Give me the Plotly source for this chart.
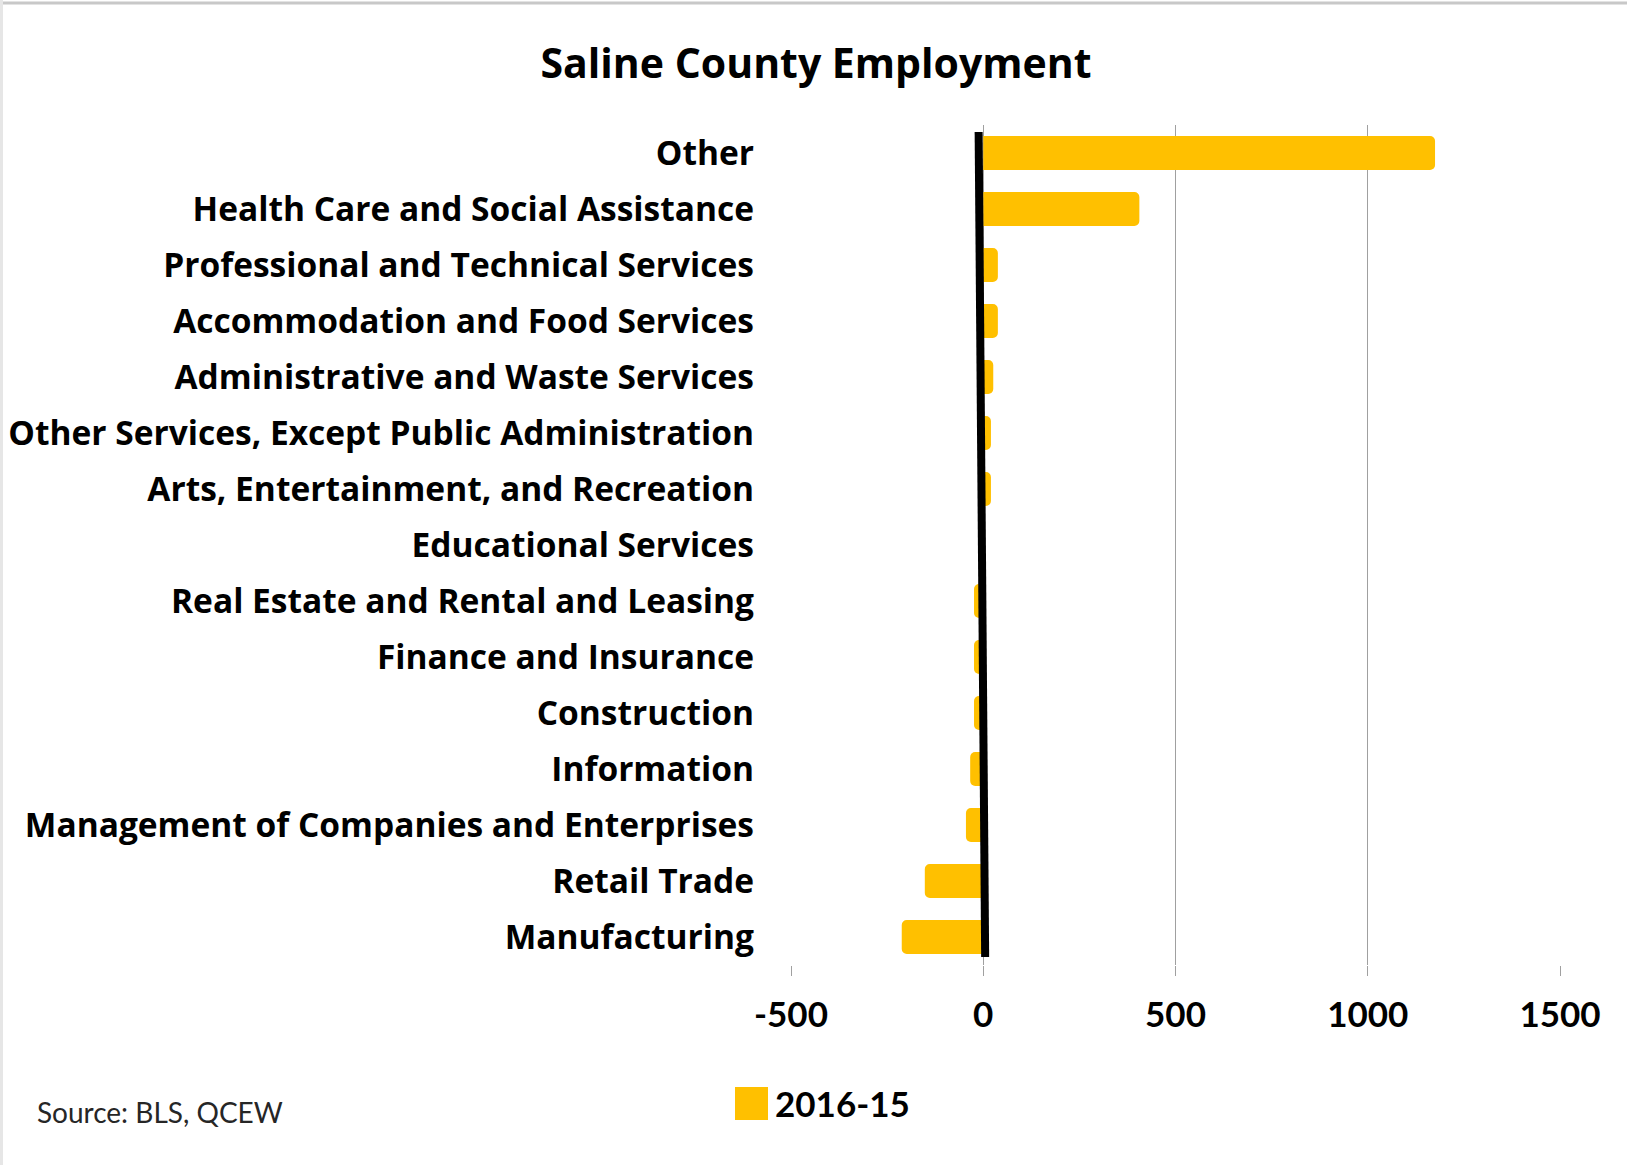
import plotly.graph_objects as go

categories = [
    "Other",
    "Health Care and Social Assistance",
    "Professional and Technical Services",
    "Accommodation and Food Services",
    "Administrative and Waste Services",
    "Other Services, Except Public Administration",
    "Arts, Entertainment, and Recreation",
    "Educational Services",
    "Real Estate and Rental and Leasing",
    "Finance and Insurance",
    "Construction",
    "Information",
    "Management of Companies and Enterprises",
    "Retail Trade",
    "Manufacturing",
]
change_2016_15 = [1175, 406, 38, 38, 26, 20, 20, 0, -24, -24, -24, -34, -45, -152, -212]
x_ticks = [-500, 0, 500, 1000, 1500]
series_name = "2016-15"
title_text = "Saline County Employment"
source_text = "Source: BLS, QCEW"

W, H = 1627, 1165
L, R, T, B = 791, 67, 125, 200
PW, PH = W - L - R, H - T - B
FONT = "Open Sans"
BAR = "#FFC000"


def px(xpix):
    return (xpix - L) / PW


def py(ypix):
    return (H - B - ypix) / PH


fig = go.Figure()
fig.add_trace(go.Bar(
    x=change_2016_15,
    y=categories,
    orientation="h",
    name=series_name,
    marker=dict(color=BAR, line=dict(width=0), cornerradius=5),
    showlegend=False,
))

fig.update_layout(
    width=W, height=H,
    margin=dict(l=L, r=R, t=T, b=B, autoexpand=False),
    paper_bgcolor="white",
    plot_bgcolor="white",
    bargap=0.39,
    font=dict(family=FONT, color="black"),
    title=dict(
        text=title_text,
        x=816 / W, xref="container", xanchor="center",
        y=1 - 64 / H, yref="container", yanchor="middle",
        font=dict(family=FONT, size=41, weight="bold", color="black"),
    ),
    xaxis=dict(
        range=[-500, 1500],
        tickvals=x_ticks,
        ticktext=[str(v) for v in x_ticks],
        showgrid=True, gridcolor="#a0a0a0", gridwidth=1,
        zeroline=False,
        showline=False,
        ticks="outside", ticklen=10, tickcolor="#a0a0a0", tickwidth=1,
        ticklabelstandoff=9,
        tickfont=dict(family="Lato", size=35, weight="bold", color="black"),
        fixedrange=True,
    ),
    yaxis=dict(
        categoryorder="array",
        categoryarray=categories[::-1],
        autorange=True,
        showgrid=False, zeroline=False, showline=False,
        ticks="",
        ticklabelstandoff=36,
        tickfont=dict(family=FONT, size=33.5, weight="bold", color="black"),
        fixedrange=True,
    ),
)

# thick hand-drawn-like zero line
fig.add_shape(type="line", xref="x", yref="paper",
              x0=-12, x1=5, y0=py(132), y1=py(957),
              line=dict(color="black", width=8), layer="above")

# legend (manual)
fig.add_shape(type="rect", xref="paper", yref="paper",
              x0=px(735), x1=px(768), y0=py(1120), y1=py(1087),
              fillcolor=BAR, line=dict(width=0), layer="above")
fig.add_annotation(text=series_name, xref="paper", yref="paper",
                   x=px(773), y=py(1103),
                   xanchor="left", yanchor="middle", showarrow=False,
                   font=dict(family="Lato", size=35, weight="bold", color="black"))

# source
fig.add_annotation(text=source_text, xref="paper", yref="paper",
                   x=px(35), y=py(1112),
                   xanchor="left", yanchor="middle", showarrow=False,
                   font=dict(family="Lato", size=28, color="#262626"))

# frame edges (top and left)
fig.add_shape(type="line", xref="paper", yref="paper",
              x0=px(0), x1=px(W), y0=py(3), y1=py(3),
              line=dict(color="#c8c8c8", width=3))
fig.add_shape(type="line", xref="paper", yref="paper",
              x0=px(1.5), x1=px(1.5), y0=py(0), y1=py(H),
              line=dict(color="#e6e6e6", width=3))

fig.write_html("out.html", config={"displayModeBar": False},
               post_script="document.body.style.margin='0px';")
